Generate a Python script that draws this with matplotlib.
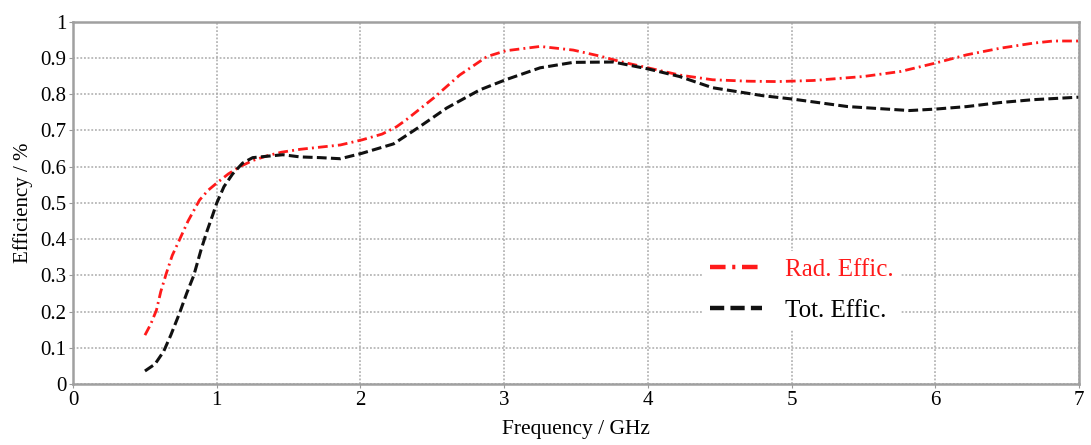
import matplotlib
matplotlib.use("Agg")
import matplotlib.pyplot as plt
from matplotlib.ticker import FuncFormatter

# values
rad_f = [0.5, 0.54, 0.58, 0.61, 0.65, 0.69, 0.74, 0.8, 0.88, 0.94, 1.0, 1.08, 1.16, 1.25, 1.35,
         1.45, 1.58, 1.86, 2.01, 2.15, 2.25, 2.32, 2.51, 2.69, 2.88, 3.01, 3.25, 3.48, 3.67,
         3.81, 4.0, 4.22, 4.45, 4.7, 4.9, 5.15, 5.5, 5.76, 6.0, 6.22, 6.45, 6.68, 6.82, 7.0]
rad_eff = [0.135, 0.165, 0.204, 0.255, 0.307, 0.355, 0.398, 0.45, 0.508, 0.535, 0.555, 0.58, 0.60,
           0.617, 0.63, 0.64, 0.648, 0.66, 0.674, 0.69, 0.71, 0.73, 0.79, 0.853, 0.904, 0.92,
           0.932, 0.922, 0.905, 0.89, 0.873, 0.853, 0.84, 0.836, 0.835, 0.838, 0.849, 0.863,
           0.886, 0.909, 0.927, 0.941, 0.947, 0.947]

tot_f = [0.5, 0.57, 0.63, 0.68, 0.74, 0.79, 0.84, 0.89, 0.93, 0.97, 1.0, 1.05, 1.11, 1.18, 1.25,
         1.46, 1.58, 1.72, 1.86, 2.01, 2.23, 2.41, 2.6, 2.83, 3.01, 3.25, 3.48, 3.76, 4.0,
         4.22, 4.45, 4.8, 5.0, 5.39, 5.82, 6.0, 6.22, 6.45, 6.68, 7.0]
tot_eff = [0.036, 0.055, 0.09, 0.135, 0.195, 0.25, 0.30, 0.37, 0.42, 0.465, 0.50, 0.545, 0.58,
           0.61, 0.625, 0.633, 0.627, 0.625, 0.622, 0.637, 0.663, 0.71, 0.762, 0.812, 0.84,
           0.873, 0.888, 0.889, 0.87, 0.849, 0.818, 0.796, 0.787, 0.766, 0.755, 0.759, 0.766,
           0.777, 0.785, 0.792]

x_ticks = [0, 1, 2, 3, 4, 5, 6, 7]
y_ticks = [0, 0.1, 0.2, 0.3, 0.4, 0.5, 0.6, 0.7, 0.8, 0.9, 1.0]

plt.rcParams['font.family'] = ['Liberation Serif', 'DejaVu Serif']

fig = plt.figure(figsize=(10.91, 4.45), dpi=100)
ax = fig.add_axes([0.067, 0.137, 0.922, 0.814])

ax.plot(rad_f, rad_eff, color='#ff1a1a', lw=2.0, linestyle=(0, (3.5, 1.5, 0.7, 1.5)),
        label='Rad. Effic.')
ax.plot(tot_f, tot_eff, color='#111111', lw=2.2, linestyle=(0, (3.2, 1.4)),
        label='Tot. Effic.')

ax.set_xlim(0, 7)
ax.set_ylim(0, 1)
ax.set_xticks(x_ticks)
ax.set_yticks(y_ticks)
ax.xaxis.set_major_formatter(FuncFormatter(lambda v, p: '%g' % v))
ax.yaxis.set_major_formatter(FuncFormatter(lambda v, p: '%g' % v))
ax.tick_params(labelsize=15, length=3, color='#999999', pad=2)

ax.grid(True, color='#aaaaaa', linestyle=(0, (1.2, 1.2)), lw=1.1)
for s in ax.spines.values():
    s.set_color('#a0a0a0')
    s.set_linewidth(1.8)

ax.set_xlabel('Frequency / GHz', fontsize=15.5, labelpad=7)
ax.set_ylabel('Efficiency / %', fontsize=15, labelpad=5)

leg = ax.legend(loc='center left', bbox_to_anchor=(0.613, 0.259), frameon=True,
                fontsize=18, handlelength=2.1, handletextpad=0.9, labelspacing=0.72,
                borderpad=0.3)
leg.get_frame().set_edgecolor('none')
leg.get_frame().set_facecolor('white')
leg.get_frame().set_alpha(1.0)
leg.get_texts()[0].set_color('#ff1a1a')
for h in leg.legend_handles:
    h.set_linewidth(3.2)

fig.savefig('out.png', dpi=100)
